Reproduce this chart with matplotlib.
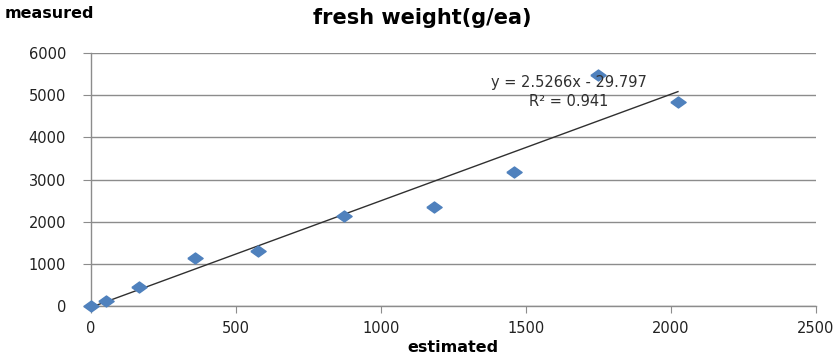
import numpy as np
import matplotlib.pyplot as plt

# estimated vs measured fresh weight (g/ea)
estimated = [0, 50, 166, 360, 576, 873, 1183, 1459, 1748, 2024]
measured = [0, 110, 450, 1140, 1300, 2130, 2350, 3178, 5475, 4838]

slope = 2.5266
intercept = -29.797
r2 = 0.941

xticks = [0, 500, 1000, 1500, 2000, 2500]
yticks = [0, 1000, 2000, 3000, 4000, 5000, 6000]

grey = '#8c8c8c'
blue = '#4f81bd'

fig = plt.figure(figsize=(8.38, 3.58), dpi=100)
ax = fig.add_axes([91 / 838, 1 - 306 / 358, 725 / 838, 253 / 358])

# trendline over the data range
xs = np.array([min(estimated), max(estimated)])
ax.plot(xs, slope * xs + intercept, color='#303030', lw=1.0, zorder=2)

diamond = [(-1, 0), (0, 0.72), (1, 0), (0, -0.72), (-1, 0)]
ax.plot(estimated, measured, linestyle='none', marker=diamond, markersize=11,
        color=blue, zorder=3, clip_on=False)

ax.set_xlim(0, 2500)
ax.set_ylim(0, 6000)
ax.set_xticks(xticks)
ax.set_yticks(yticks)
ax.grid(axis='y', color=grey, lw=1.0)
ax.set_axisbelow(True)
for s in ['top', 'right']:
    ax.spines[s].set_visible(False)
for s in ['left', 'bottom']:
    ax.spines[s].set_color(grey)
    ax.spines[s].set_linewidth(1.0)
ax.tick_params(axis='y', length=6, color=grey, labelsize=10.5, labelcolor='#222222', pad=12)
ax.tick_params(axis='x', length=5, color=grey, labelsize=10.5, labelcolor='#222222', pad=6)

ax.text(1648, 5290, f'y = {slope}x - {abs(intercept)}', fontsize=10.5, color='#303030',
        ha='center', va='center')
ax.text(1648, 4840, f'R² = {r2}', fontsize=10.5, color='#303030', ha='center', va='center')

fig.text(422 / 838, 1 - 18 / 358, 'fresh weight(g/ea)', fontsize=15, fontweight='bold',
         ha='center', va='center')
fig.text(5 / 838, 1 - 14 / 358, 'measured', fontsize=11.5, fontweight='bold',
         ha='left', va='center')
fig.text(453 / 838, 1 - 347 / 358, 'estimated', fontsize=11.5, fontweight='bold',
         ha='center', va='center')

fig.savefig('out.png', dpi=100)
